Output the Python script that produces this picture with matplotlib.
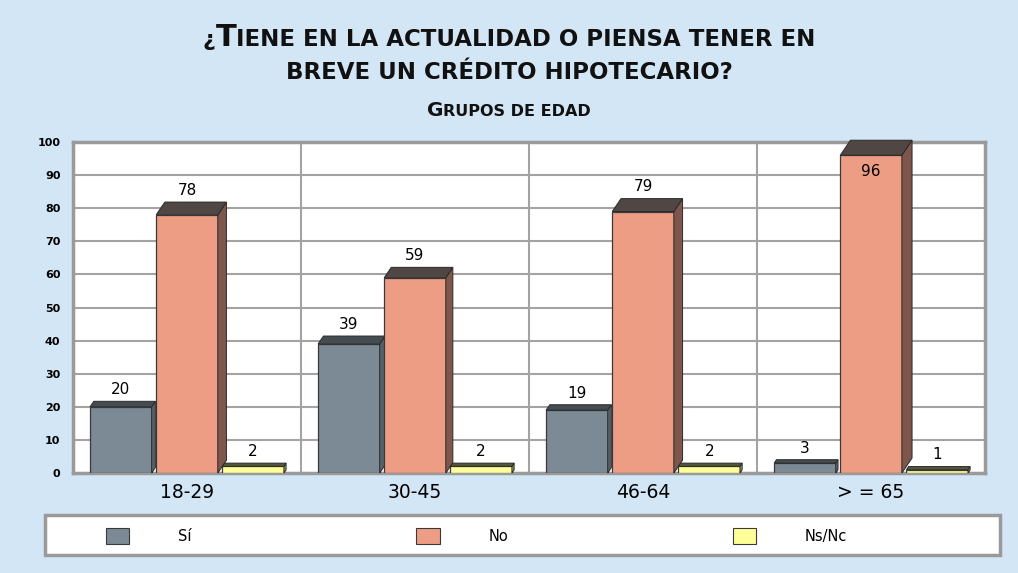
import matplotlib.pyplot as plt
from matplotlib.patches import Polygon, Rectangle, Patch
from matplotlib.offsetbox import TextArea, HPacker, AnchoredOffsetbox

# ---------------- DATA ----------------
groups = ["18-29", "30-45", "46-64", "> = 65"]
series = ["Sí", "No", "Ns/Nc"]
si_vals = [20, 39, 19, 3]
no_vals = [78, 59, 79, 96]
ns_vals = [2, 2, 2, 1]
y_ticks = [0, 10, 20, 30, 40, 50, 60, 70, 80, 90, 100]

# ---------------- STYLE ----------------
bg = "#d3e6f5"
front = ["#7b8a94", "#ee9d85", "#ffff99"]
top_c = ["#454d52", "#504643", "#56563c"]
side_c = ["#56626a", "#7e564c", "#9c9c58"]
offsets = [-0.29, 0.0, 0.29]
width = 0.27

fig = plt.figure(figsize=(10.18, 5.73), dpi=100)
fig.patch.set_facecolor(bg)
ax = fig.add_axes([0.0717, 0.1745, 0.896, 0.5777])
ax.set_facecolor("white")
ax.set_xlim(0, 4)
ax.set_ylim(0, 100)

# ---------------- BARS ----------------
bb = ax.get_window_extent()
px_x = bb.width / 4
px_y = bb.height / 100

for k, vals in enumerate([si_vals, no_vals, ns_vals]):
    xs = [i + 0.5 + offsets[k] for i in range(len(groups))]
    ax.bar(xs, vals, width, color=front[k], edgecolor="#3a3a3a",
           linewidth=0.9, zorder=3)
    for xc, v in zip(xs, vals):
        dx = (2 + 0.085 * v) / px_x
        dy = (3 + 0.125 * v) / px_y
        x0, x1 = xc - width / 2, xc + width / 2
        top = Polygon([(x0, v), (x0 + dx, v + dy), (x1 + dx, v + dy), (x1, v)],
                      closed=True, facecolor=top_c[k], edgecolor="#2a2a2a",
                      linewidth=0.7, zorder=3, clip_on=False)
        side = Polygon([(x1, 0), (x1, v), (x1 + dx, v + dy), (x1 + dx, dy)],
                       closed=True, facecolor=side_c[k], edgecolor="#2a2a2a",
                       linewidth=0.7, zorder=3, clip_on=False)
        ax.add_patch(side)
        ax.add_patch(top)
        if v > 90:
            ax.annotate(str(v), (xc, v), xytext=(0, -6), textcoords="offset points",
                        ha="center", va="top", fontsize=11, zorder=5)
        else:
            ax.annotate(str(v), (xc, v + dy), xytext=(0, 3), textcoords="offset points",
                        ha="center", va="bottom", fontsize=11, zorder=5)

# ---------------- AXES ----------------
ax.set_yticks(y_ticks)
ax.set_yticklabels([str(t) for t in y_ticks], fontsize=8, fontweight="bold")
ax.set_xticks([i + 0.5 for i in range(len(groups))])
ax.set_xticklabels(groups, fontsize=13.5)
ax.set_xticks([1, 2, 3], minor=True)
ax.tick_params(axis="both", which="both", length=0)
ax.tick_params(axis="y", pad=9)
ax.tick_params(axis="x", pad=7)
ax.grid(axis="y", which="major", color="#a3a3a3", linewidth=1.5, zorder=1)
ax.grid(axis="x", which="minor", color="#a3a3a3", linewidth=1.5, zorder=1)
ax.set_axisbelow(True)
for s in ax.spines.values():
    s.set_color("#9a9a9a")
    s.set_linewidth(2.5)

# ---------------- TITLE (small caps) ----------------
def small_caps(parts, y):
    boxes = [TextArea(t, textprops=dict(fontsize=s, fontweight="bold", color="#111111"))
             for t, s in parts]
    pack = HPacker(children=boxes, align="baseline", pad=0, sep=0)
    box = AnchoredOffsetbox(loc="center", child=pack, bbox_to_anchor=(0.5, y),
                            bbox_transform=fig.transFigure, frameon=False,
                            pad=0, borderpad=0)
    fig.add_artist(box)

small_caps([("¿", 16), ("T", 22), ("IENE EN LA ACTUALIDAD O PIENSA TENER EN", 16.5)], 0.935)
small_caps([("BREVE UN CRÉDITO HIPOTECARIO?", 16.5)], 0.874)
small_caps([("G", 14.5), ("RUPOS DE EDAD", 11.5)], 0.808)

# ---------------- LEGEND ----------------
fig.add_artist(Rectangle((45 / 1018, 1 - 555 / 573), 955 / 1018, 40 / 573,
                         transform=fig.transFigure, facecolor="white",
                         edgecolor="#9a9a9a", linewidth=2.5))
handles = [Patch(facecolor=front[k], edgecolor="#3a3a3a", linewidth=0.8)
           for k in range(3)]
fig.legend(handles, series, loc="center left", bbox_to_anchor=(106 / 1018, 1 - 536 / 573),
           ncol=3, frameon=False, fontsize=10.5, handlelength=1.6, handleheight=1.37,
           handletextpad=3.35, columnspacing=15.4, borderpad=0, borderaxespad=0)

plt.savefig("out.png", dpi=100, facecolor=bg)
